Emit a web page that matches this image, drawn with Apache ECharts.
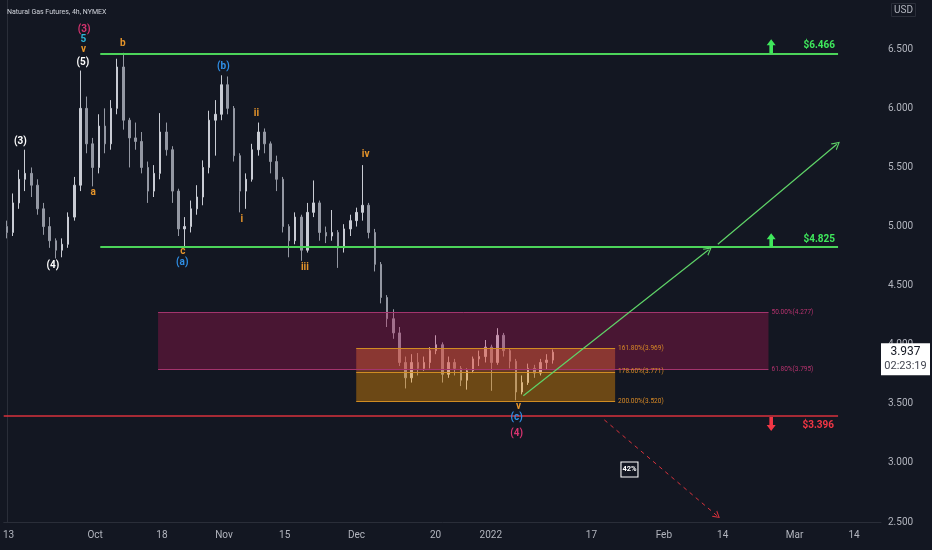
<!DOCTYPE html>
<html>
<head>
  <meta charset="utf-8">
  <title>Natural Gas Futures, 4h, NYMEX</title>
  <style type="text/css">
    html, body { margin: 0; padding: 0; background: #131722; }
    #main { width: 932px; height: 550px; }
  </style>
</head>
<body>
<div id="main"></div>
<script type="text/javascript" src="https://cdn.jsdelivr.net/npm/echarts@6/dist/echarts.min.js"></script>
<script type="text/javascript">
  // one candle per trading day, slot 0 = 13 Sep 2021  [open, close, low, high]
  var candles = [
    [5.00,4.95,4.90,5.05],[4.95,5.20,4.92,5.28],[5.20,5.40,5.15,5.48],[5.40,5.45,5.30,5.65],[5.45,5.35,5.25,5.50],
    [5.35,5.15,5.10,5.40],[5.15,5.00,4.93,5.20],[5.00,4.88,4.82,5.08],[4.88,4.80,4.73,4.90],[4.80,4.85,4.74,4.90],
    [4.85,5.08,4.82,5.12],[5.08,5.35,5.05,5.42],[5.35,6.00,5.30,6.32],[6.00,5.70,5.62,6.10],[5.70,5.50,5.34,5.75],
    [5.50,5.85,5.45,5.95],[5.85,5.70,5.62,6.00],[5.70,6.00,5.65,6.07],[6.00,6.35,5.95,6.42],[6.35,5.90,5.82,6.47],
    [5.90,5.75,5.50,5.92],[5.75,5.72,5.65,5.88],[5.72,5.50,5.45,5.80],[5.50,5.30,5.20,5.55],[5.30,5.45,5.25,5.52],
    [5.45,5.80,5.40,5.96],[5.80,5.65,5.60,5.88],[5.65,5.30,5.20,5.68],[5.30,4.98,4.92,5.32],[4.98,5.00,4.82,5.08],
    [5.00,5.15,4.95,5.22],[5.15,5.25,5.10,5.35],[5.25,5.50,5.18,5.56],[5.50,5.90,5.45,5.98],[5.90,5.95,5.60,6.07],
    [5.95,6.20,5.90,6.28],[6.20,6.00,5.95,6.27],[6.00,5.60,5.55,6.02],[5.60,5.30,5.12,5.62],[5.30,5.40,5.15,5.45],
    [5.40,5.65,5.38,5.70],[5.65,5.80,5.60,5.88],[5.80,5.70,5.62,5.83],[5.70,5.55,5.45,5.72],[5.55,5.40,5.30,5.60],
    [5.40,5.00,4.95,5.42],[5.00,4.88,4.74,5.02],[4.88,5.08,4.85,5.12],[5.08,4.80,4.71,5.10],[4.80,5.12,4.78,5.20],
    [5.12,5.20,5.08,5.39],[5.20,4.95,4.88,5.22],[4.95,4.92,4.86,5.00],[4.92,4.95,4.88,5.14],[4.95,4.82,4.65,4.97],
    [4.82,4.98,4.78,5.02],[4.98,5.05,4.92,5.10],[5.05,5.12,5.00,5.16],[5.12,5.18,5.05,5.52],[5.18,4.95,4.90,5.20],
    [4.95,4.68,4.62,4.98],[4.68,4.40,4.35,4.70],[4.40,4.22,4.15,4.42],[4.22,4.10,4.05,4.30],[4.10,3.85,3.82,4.15],
    [3.85,3.72,3.63,3.90],[3.72,3.85,3.68,3.92],[3.85,3.80,3.74,3.93],[3.80,3.85,3.78,3.90],[3.85,3.95,3.80,3.98],
    [3.95,4.00,3.92,4.08],[4.00,3.75,3.68,4.02],[3.75,3.85,3.72,3.90],[3.85,3.80,3.74,3.88],[3.80,3.70,3.65,3.82],
    [3.70,3.78,3.62,3.80],[3.78,3.88,3.76,3.90],[3.88,3.90,3.82,3.95],[3.90,3.98,3.85,4.04],[3.98,3.85,3.61,4.00],
    [3.85,4.08,3.83,4.14],[4.08,3.95,3.90,4.10],[3.95,3.86,3.80,3.97],[3.86,3.60,3.53,3.88],[3.60,3.68,3.58,3.74],
    [3.68,3.80,3.66,3.84],[3.80,3.76,3.72,3.83],[3.76,3.85,3.74,3.88],[3.85,3.87,3.79,3.92],[3.87,3.937,3.84,3.96]
  ];

  // time scale labels (slot position, text)
  var xTickSlots = [0.3, 14.4, 25.3, 35.4, 45.3, 57.0, 69.9, 78.9, 95.3, 107.1, 116.7, 128.4, 138.1];
  var xTickNames = ['13', 'Oct', '18', 'Nov', '15', 'Dec', '20', '2022', '17', 'Feb', '14', 'Mar', '14'];
  var yTicks = [2.5, 3, 3.5, 4, 4.5, 5, 5.5, 6, 6.5];

  var targetLevels = [6.466, 4.825];
  var stopLevel = 3.396;
  var lastPrice = 3.937;
  var countdown = '02:23:19';
  var probability = '42%';

  // fib zones: [level, ratio text]
  var retraceLevels = [[4.277, '50.00%'], [3.795, '61.80%']];
  var extensionLevels = [[3.969, '161.80%'], [3.771, '178.60%'], [3.520, '200.00%']];
  var retraceSpan = [24.66, 124.16];
  var extensionSpan = [56.96, 99.16];
  var levelSpan = [15.24, 135.5];

  // projection arrows: [slot, price] pairs
  var bullPath1 = [[84.2, 3.568], [114.4, 4.803]];
  var bullPath2 = [[115.9, 4.850], [135.3, 5.696]];
  var bearPath = [[97.4, 3.364], [115.8, 2.552]];

  // Elliott wave labels: [text, slot, price, degree]
  var waveLabels = [
    ['(3)', 12.6, 6.669, 'cycle'], ['5', 12.5, 6.579, 'minor'], ['v', 12.5, 6.494, 'minute'],
    ['(5)', 12.4, 6.387, 'inter'], ['b', 18.9, 6.551, 'minute'], ['(b)', 35.3, 6.353, 'primary'],
    ['ii', 40.7, 5.959, 'minute'], ['(3)', 2.2, 5.718, 'inter'], ['a', 14.1, 5.287, 'minute'],
    ['i', 38.3, 5.062, 'minute'], ['iv', 58.5, 5.606, 'minute'], ['c', 28.7, 4.788, 'minute'],
    ['(a)', 28.6, 4.700, 'primary'], ['(4)', 7.5, 4.667, 'inter'], ['iii', 48.6, 4.652, 'minute'],
    ['v', 83.4, 3.476, 'minute'], ['(c)', 83.1, 3.383, 'primary'], ['(4)', 83.1, 3.245, 'cycle']
  ];
  var waveColors = { cycle: '#d6336f', minor: '#2cb5d8', minute: '#e6952b', inter: '#ffffff', primary: '#2f8fe6' };

  var green = '#4cd45a';
  var greenText = '#3fe85c';
  var red = '#f23645';
  var pink = '#a3346d';
  var orange = '#d08c22';
  var chevron = 'path://M0,10 L5,0 L10,10 L8.6,10 L5,2.8 L1.4,10 Z';
  var upArrow = 'path://M5,0 L10,6 L7,6 L7,14 L3,14 L3,6 L0,6 Z';
  var downArrow = 'path://M3,0 L7,0 L7,8 L10,8 L5,14 L0,8 L3,8 Z';

  var myChart = echarts.init(document.getElementById('main'));

  var candleData = candles.map(function (c, i) {
    return [i, c[0], c[1], c[2], c[3]];
  });

  var lines = [];
  targetLevels.forEach(function (lv) {
    lines.push([
      {coord: [levelSpan[0], lv], lineStyle: {color: green, width: 2, type: 'solid'},
       label: {show: true, position: 'insideEndTop', formatter: '$' + lv.toFixed(3), color: greenText,
               fontSize: 10, fontWeight: 'bold', distance: 3}},
      {coord: [levelSpan[1], lv]}
    ]);
  });
  lines.push([
    {coord: [-0.5, stopLevel], lineStyle: {color: '#d8323c', width: 1.5, type: 'solid'},
     label: {show: true, position: 'insideEndBottom', formatter: '$' + stopLevel.toFixed(3), color: red,
             fontSize: 10, fontWeight: 'bold', distance: 4}},
    {coord: [levelSpan[1], stopLevel]}
  ]);
  retraceLevels.forEach(function (lv) {
    lines.push([
      {coord: [retraceSpan[0], lv[0]], lineStyle: {color: pink, width: 1, type: 'solid'},
       label: {show: true, position: 'end', formatter: lv[1] + '(' + lv[0].toFixed(3) + ')', color: '#b8336f',
               fontSize: 6.5, distance: 3}},
      {coord: [retraceSpan[1], lv[0]]}
    ]);
  });
  extensionLevels.forEach(function (lv) {
    lines.push([
      {coord: [extensionSpan[0], lv[0]], lineStyle: {color: orange, width: 1, type: 'solid'},
       label: {show: true, position: 'end', formatter: lv[1] + '(' + lv[0].toFixed(3) + ')', color: '#d98a26',
               fontSize: 6.5, distance: 3}},
      {coord: [extensionSpan[1], lv[0]]}
    ]);
  });
  [bullPath1, bullPath2].forEach(function (p) {
    lines.push([
      {coord: p[0], symbol: 'none', lineStyle: {color: '#5fd468', width: 1.2, type: 'solid'}},
      {coord: p[1], symbol: chevron, symbolSize: [9, 8]}
    ]);
  });
  lines.push([
    {coord: bearPath[0], symbol: 'none', lineStyle: {color: '#d8323c', width: 1, type: [4, 4]}},
    {coord: bearPath[1], symbol: chevron, symbolSize: [8, 7]}
  ]);

  var points = waveLabels.map(function (w) {
    return {
      coord: [w[1], w[2]], symbol: 'circle', symbolSize: 1,
      itemStyle: {color: 'rgba(0,0,0,0)'},
      label: {show: true, position: 'inside', formatter: w[0], color: waveColors[w[3]],
              fontSize: 10, fontWeight: 'bold'}
    };
  });
  targetLevels.forEach(function (lv) {
    points.push({coord: [124.6, lv], symbol: upArrow, symbolSize: [9, 14], symbolOffset: [0, -7],
                 itemStyle: {color: greenText}, label: {show: false}});
  });
  points.push({coord: [124.6, stopLevel], symbol: downArrow, symbolSize: [9, 14], symbolOffset: [0, 8],
               itemStyle: {color: red}, label: {show: false}});
  points.push({coord: [101.5, 2.944], symbol: 'rect', symbolSize: [17, 15],
               itemStyle: {color: '#131722', borderColor: '#ffffff', borderWidth: 1},
               label: {show: true, position: 'inside', formatter: probability, color: '#ffffff',
                       fontSize: 7.5, fontWeight: 'bold'}});
  points.push({coord: [142.5, lastPrice], symbol: 'rect', symbolSize: [49, 32], symbolOffset: [24.5, 7],
               itemStyle: {color: '#ffffff'},
               label: {show: true, position: 'inside',
                       formatter: '{a|' + lastPrice.toFixed(3) + '}\n{b|' + countdown + '}',
                       rich: {a: {color: '#131722', fontSize: 12, lineHeight: 15, fontFamily: 'Roboto'},
                              b: {color: '#434651', fontSize: 11, lineHeight: 15, fontFamily: 'Roboto'}}}});

  var option = {
    backgroundColor: '#131722',
    animation: false,
    textStyle: {fontFamily: 'Roboto'},
    title: [
      {text: 'Natural Gas Futures, 4h, NYMEX', left: 2, top: 4,
       textStyle: {color: '#d1d4dc', fontSize: 7, fontWeight: 'normal', fontFamily: 'Roboto'}},
      {text: 'USD', right: 16, top: 3, padding: [2, 3], borderColor: '#2a2e39', borderWidth: 1,
       textStyle: {color: '#b2b5be', fontSize: 10, fontWeight: 'normal', fontFamily: 'Roboto'}}
    ],
    grid: {left: 0, right: 51, top: 0, bottom: 28, containLabel: false},
    xAxis: {
      type: 'value',
      min: -0.5,
      max: 142.5,
      axisLine: {show: true, lineStyle: {color: '#2a2e39'}},
      axisTick: {show: false},
      splitLine: {show: false},
      axisLabel: {
        customValues: xTickSlots,
        color: '#b2b5be',
        fontSize: 10,
        margin: 8,
        formatter: function (v) {
          for (var i = 0; i < xTickSlots.length; i++) {
            if (Math.abs(xTickSlots[i] - v) < 0.01) return xTickNames[i];
          }
          return '';
        }
      }
    },
    yAxis: {
      type: 'value',
      position: 'right',
      min: 2.5,
      max: 6.917,
      axisLine: {show: true, lineStyle: {color: '#2a2e39'}},
      axisTick: {show: false},
      splitLine: {show: false},
      axisLabel: {
        customValues: yTicks,
        color: '#b2b5be',
        fontSize: 10,
        margin: 7,
        formatter: function (v) { return v.toFixed(3); }
      }
    },
    series: [
      {
        name: 'NG',
        type: 'candlestick',
        data: candleData,
        barWidth: 2,
        z: 1,
        itemStyle: {
          color: '#c9ccd4',
          color0: '#9498a3',
          borderColor: '#c9ccd4',
          borderColor0: '#9498a3',
          borderWidth: 1
        }
      },
      {
        name: 'zones',
        type: 'line',
        data: [],
        z: 5,
        markArea: {
          silent: true,
          z: 5,
          data: [
            [{coord: [retraceSpan[0], retraceLevels[0][0]], itemStyle: {color: 'rgba(194,24,91,0.31)'}},
             {coord: [retraceSpan[1], retraceLevels[1][0]]}],
            [{coord: [extensionSpan[0], extensionLevels[0][0]], itemStyle: {color: 'rgba(245,110,50,0.38)'}},
             {coord: [extensionSpan[1], extensionLevels[1][0]]}],
            [{coord: [extensionSpan[0], extensionLevels[1][0]], itemStyle: {color: 'rgba(255,152,0,0.38)'}},
             {coord: [extensionSpan[1], extensionLevels[2][0]]}]
          ]
        }
      },
      {
        name: 'drawings',
        type: 'line',
        data: [],
        z: 6,
        markLine: {
          silent: true,
          z: 6,
          symbol: ['none', 'none'],
          data: lines
        },
        markPoint: {
          silent: true,
          z: 7,
          data: points
        }
      }
    ]
  };

  myChart.setOption(option);
</script>
</body>
</html>
